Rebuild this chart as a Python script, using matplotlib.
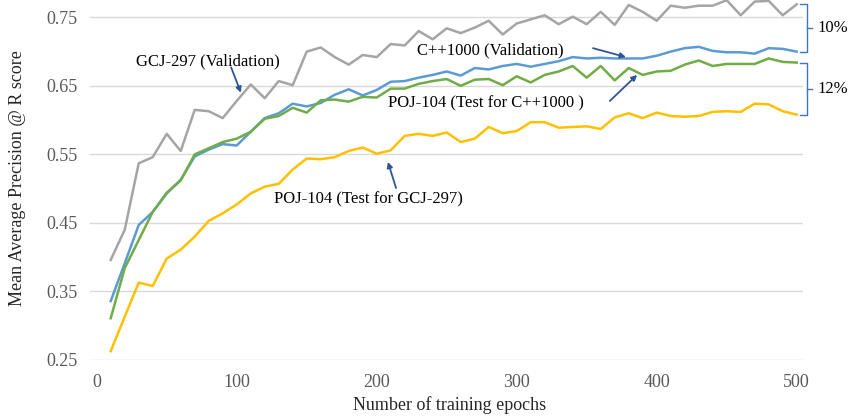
import matplotlib
matplotlib.use("Agg")
import matplotlib.pyplot as plt
import numpy as np

# epochs (every 10 epochs)
epochs = list(range(10, 510, 10))

# GCJ-297 (Validation)
gcj_val = [0.396, 0.440, 0.537, 0.546, 0.580, 0.555, 0.615, 0.613, 0.603, 0.628,
           0.652, 0.632, 0.657, 0.651, 0.700, 0.706, 0.692, 0.681, 0.695, 0.692,
           0.711, 0.709, 0.730, 0.718, 0.734, 0.727, 0.735, 0.745, 0.725, 0.741,
           0.747, 0.753, 0.740, 0.751, 0.740, 0.758, 0.739, 0.768, 0.758, 0.745,
           0.767, 0.764, 0.767, 0.767, 0.775, 0.753, 0.773, 0.774, 0.753, 0.769]

# C++1000 (Validation)
cpp_val = [0.336, 0.391, 0.447, 0.466, 0.493, 0.513, 0.547, 0.557, 0.565, 0.563,
           0.583, 0.603, 0.610, 0.624, 0.620, 0.625, 0.637, 0.645, 0.636, 0.644,
           0.656, 0.657, 0.662, 0.666, 0.671, 0.665, 0.676, 0.674, 0.679, 0.682,
           0.678, 0.682, 0.686, 0.692, 0.690, 0.691, 0.690, 0.690, 0.690, 0.694,
           0.700, 0.705, 0.707, 0.701, 0.699, 0.699, 0.697, 0.705, 0.704, 0.700]

# POJ-104 (Test for C++1000)
poj_cpp = [0.311, 0.384, 0.425, 0.466, 0.494, 0.512, 0.550, 0.559, 0.568, 0.573,
           0.583, 0.602, 0.606, 0.618, 0.611, 0.629, 0.630, 0.627, 0.634, 0.633,
           0.646, 0.646, 0.653, 0.657, 0.660, 0.650, 0.659, 0.660, 0.651, 0.664,
           0.655, 0.666, 0.671, 0.679, 0.662, 0.679, 0.658, 0.676, 0.666, 0.671,
           0.672, 0.681, 0.687, 0.679, 0.682, 0.682, 0.682, 0.690, 0.685, 0.684]

# POJ-104 (Test for GCJ-297)
poj_gcj = [0.263, 0.313, 0.363, 0.358, 0.398, 0.411, 0.430, 0.453, 0.464, 0.477,
           0.493, 0.503, 0.507, 0.528, 0.544, 0.543, 0.546, 0.555, 0.560, 0.551,
           0.556, 0.577, 0.580, 0.577, 0.582, 0.568, 0.573, 0.590, 0.581, 0.584,
           0.597, 0.597, 0.589, 0.590, 0.591, 0.587, 0.604, 0.610, 0.603, 0.611,
           0.606, 0.605, 0.606, 0.612, 0.613, 0.612, 0.624, 0.623, 0.613, 0.608]

xticks = [0, 100, 200, 300, 400, 500]
yticks = [0.25, 0.35, 0.45, 0.55, 0.65, 0.75]

plt.rcParams['font.family'] = ['Liberation Serif', 'DejaVu Serif']

fig = plt.figure(figsize=(8.49, 4.17), dpi=100)
ax = fig.add_axes([90/849, 1 - 360/417, 713/849, 360/417])

ax.plot(epochs, gcj_val, color='#A5A5A5', lw=1.8, clip_on=False)
ax.plot(epochs, cpp_val, color='#5B9BD5', lw=1.8, clip_on=False)
ax.plot(epochs, poj_cpp, color='#70AD47', lw=1.8, clip_on=False)
ax.plot(epochs, poj_gcj, color='#FFC000', lw=1.8, clip_on=False)

ax.set_xlim(-4.8, 504.5)
ax.set_ylim(0.25, 0.7753)
ax.set_xticks(xticks)
ax.set_yticks(yticks)
ax.set_xticklabels([str(t) for t in xticks])
ax.set_yticklabels(['%.2f' % t for t in yticks])
ax.tick_params(length=0, labelsize=13, colors='#595959', pad=10)
ax.tick_params(axis='y', pad=9)
ax.grid(axis='y', color='#D9D9D9', lw=1.0)
ax.set_axisbelow(True)
for s in ax.spines.values():
    s.set_visible(False)

fig.text(18/849, 1 - 178/417, 'Mean Average Precision @ R score', rotation=90,
         ha='center', va='center', fontsize=13, color='#262626')
fig.text(450/849, 1 - 405/417, 'Number of training epochs',
         ha='center', va='center', fontsize=13, color='#262626')

# annotations
arrow_kw = dict(arrowstyle='-|>', color='#2F5597', lw=1.3, mutation_scale=8,
                shrinkA=0, shrinkB=0)
ax.text(79.5, 0.686, 'GCJ-297 (Validation)', ha='center', va='center', fontsize=12)
ax.annotate('', xy=(103, 0.640), xytext=(96, 0.677), arrowprops=arrow_kw)
ax.text(281, 0.702, 'C++1000 (Validation)', ha='center', va='center', fontsize=12)
ax.annotate('', xy=(378, 0.692), xytext=(354.5, 0.705), arrowprops=arrow_kw)
ax.text(277.7, 0.625, 'POJ-104 (Test for C++1000 )', ha='center', va='center', fontsize=12)
ax.annotate('', xy=(386, 0.666), xytext=(366.5, 0.628), arrowprops=arrow_kw)
ax.text(193.8, 0.485, 'POJ-104 (Test for GCJ-297)', ha='center', va='center', fontsize=12)
ax.annotate('', xy=(208, 0.539), xytext=(213.8, 0.501), arrowprops=arrow_kw)

# brackets on the right
def bracket(y_top, y_bot, label):
    x0, x1, x2 = 502.4, 507.4, 511
    ym = (y_top + y_bot) / 2
    ax.plot([x0, x1, x1, x0], [y_top, y_top, y_bot, y_bot], color='#4472C4',
            lw=1.0, clip_on=False)
    ax.plot([x1, x2], [ym, ym], color='#4472C4', lw=1.0, clip_on=False)
    ax.text(515, ym, label, ha='left', va='center', fontsize=12)

bracket(gcj_val[-1], cpp_val[-1], '10%')
bracket(poj_cpp[-1], poj_gcj[-1], '12%')

fig.savefig('out.png', dpi=100)
